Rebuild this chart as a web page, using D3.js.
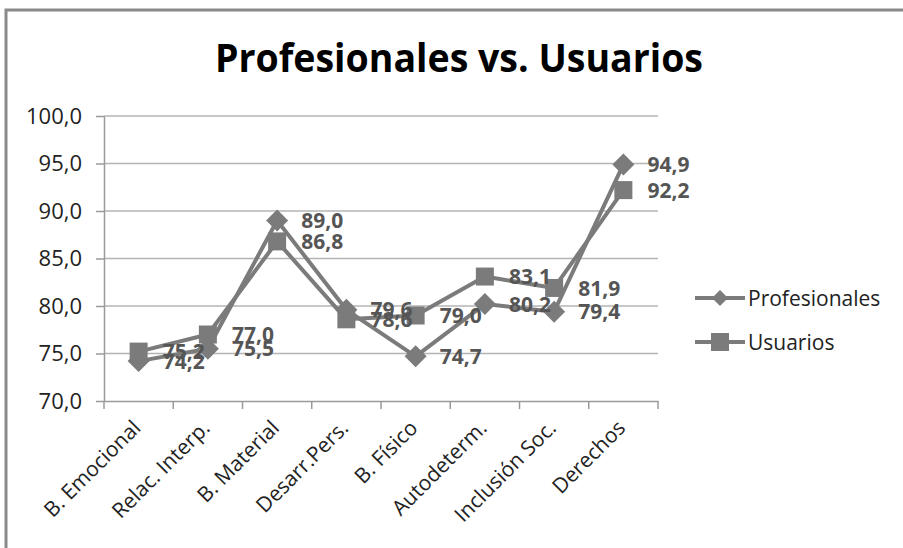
<!DOCTYPE html>
<html>
<head>
<meta charset="utf-8">
<script src="https://cdn.jsdelivr.net/npm/d3@7"></script>
<style>
  body { margin: 0; background: #fff; }
  svg { display: block; font-family: 'Open Sans', sans-serif; }
</style>
</head>
<body>
<script>
var categories = ['B. Emocional', 'Relac. Interp.', 'B. Material', 'Desarr.Pers.', 'B. Físico', 'Autodeterm.', 'Inclusión Soc.', 'Derechos'];
var profesionales = [74.2, 75.5, 89.0, 79.6, 74.7, 80.2, 79.4, 94.9];
var usuarios = [75.2, 77.0, 86.8, 78.6, 79.0, 83.1, 81.9, 92.2];
var seriesNames = ['Profesionales', 'Usuarios'];
var yTicks = [70, 75, 80, 85, 90, 95, 100];

var w = 903;
var h = 548;
var lineColour = '#7b7b7b';
var fmt = function(v){ return v.toFixed(1).replace('.', ','); };

var svg = d3.select('body')
  .append('svg')
  .attr('width', w)
  .attr('height', h);

// chart border (only top and left visible)
svg.append('path')
  .attr('d', 'M6,' + h + 'V10H' + w)
  .attr('fill', 'none')
  .attr('stroke', '#8a8a8a')
  .attr('stroke-width', 3);

svg.append('text')
  .text('Profesionales vs. Usuarios')
  .attr('x', 459)
  .attr('y', 72)
  .attr('text-anchor', 'middle')
  .attr('font-weight', 'bold')
  .attr('font-size', '40px')
  .attr('textLength', 488)
  .attr('lengthAdjust', 'spacingAndGlyphs')
  .attr('fill', '#000');

var xScale = d3.scaleBand()
  .domain(categories)
  .range([104, 658]);

var yScale = d3.scaleLinear()
  .domain([70, 100])
  .range([401, 116]);

var cx = function(i){ return xScale(categories[i]) + xScale.bandwidth() / 2; };

// gridlines
svg.append('g')
  .selectAll('line')
  .data(yTicks.slice(1))
  .enter()
  .append('line')
  .attr('x1', 104)
  .attr('x2', 658)
  .attr('y1', function(d){ return yScale(d); })
  .attr('y2', function(d){ return yScale(d); })
  .attr('stroke', '#b4b4b4')
  .attr('stroke-width', 1.5);

var yAxis = d3.axisLeft(yScale)
  .tickValues(yTicks)
  .tickFormat(fmt)
  .tickSizeInner(8)
  .tickSizeOuter(0)
  .tickPadding(14);

var gy = svg.append('g')
  .attr('transform', 'translate(104,0)')
  .call(yAxis);
gy.selectAll('line, path').attr('stroke', '#9a9a9a').attr('stroke-width', 1.5);
gy.selectAll('text')
  .attr('font-size', '22px')
  .attr('font-family', "'Open Sans', sans-serif")
  .attr('fill', '#222');

var xAxis = d3.axisBottom(xScale)
  .tickSize(0)
  .tickPadding(10);

var gx = svg.append('g')
  .attr('transform', 'translate(0,401)')
  .call(xAxis);
gx.select('path').attr('stroke', '#9a9a9a').attr('stroke-width', 1.5);
gx.selectAll('text')
  .attr('font-size', '21px')
  .attr('font-family', "'Open Sans', sans-serif")
  .attr('fill', '#222')
  .attr('text-anchor', 'end')
  .attr('dy', '0.35em')
  .attr('transform', 'translate(-9,16) rotate(-45)');

// category boundary ticks
gx.selectAll('.bound')
  .data(categories.concat(['end']))
  .enter()
  .append('line')
  .attr('class', 'bound')
  .attr('x1', function(d){ return d === 'end' ? xScale.range()[1] : xScale(d); })
  .attr('x2', function(d){ return d === 'end' ? xScale.range()[1] : xScale(d); })
  .attr('y1', 0)
  .attr('y2', 8)
  .attr('stroke', '#9a9a9a')
  .attr('stroke-width', 1.5);

var line = d3.line()
  .x(function(d, i){ return cx(i); })
  .y(function(d){ return yScale(d); });

var diamond = 'M0,-11L11,0L0,11L-11,0Z';

function drawSeries(values, isSquare){
  svg.append('path')
    .datum(values)
    .attr('d', line)
    .attr('fill', 'none')
    .attr('stroke', lineColour)
    .attr('stroke-width', 4)
    .attr('stroke-linejoin', 'round');

  var marks = svg.append('g');
  if (isSquare) {
    marks.selectAll('rect')
      .data(values)
      .enter()
      .append('rect')
      .attr('x', function(d, i){ return cx(i) - 9; })
      .attr('y', function(d){ return yScale(d) - 9; })
      .attr('width', 18)
      .attr('height', 18)
      .attr('fill', lineColour);
  } else {
    marks.selectAll('path')
      .data(values)
      .enter()
      .append('path')
      .attr('d', diamond)
      .attr('transform', function(d, i){ return 'translate(' + cx(i) + ',' + yScale(d) + ')'; })
      .attr('fill', lineColour);
  }
}

function drawLabels(values){
  svg.append('g')
    .selectAll('text')
    .data(values)
    .enter()
    .append('text')
    .text(fmt)
    .attr('x', function(d, i){ return cx(i) + 24; })
    .attr('y', function(d){ return yScale(d); })
    .attr('dy', '0.36em')
    .attr('font-size', '21px')
    .attr('font-weight', 'bold')
    .attr('fill', '#555');
}

drawSeries(profesionales, false);
drawSeries(usuarios, true);
drawLabels(profesionales);
drawLabels(usuarios);

// legend
var legend = svg.append('g')
  .selectAll('g')
  .data(seriesNames)
  .enter()
  .append('g')
  .attr('transform', function(d, i){ return 'translate(695,' + (298 + i * 44) + ')'; });

legend.append('line')
  .attr('x1', 0)
  .attr('x2', 50)
  .attr('stroke', lineColour)
  .attr('stroke-width', 4);

legend.each(function(d, i){
  var g = d3.select(this);
  if (i === 0) {
    g.append('path').attr('d', 'M0,-8L8,0L0,8L-8,0Z').attr('transform', 'translate(25,0)').attr('fill', lineColour);
  } else {
    g.append('rect').attr('x', 16).attr('y', -9).attr('width', 18).attr('height', 18).attr('fill', lineColour);
  }
});

legend.append('text')
  .text(function(d){ return d; })
  .attr('x', 53)
  .attr('dy', '0.36em')
  .attr('font-size', '21px')
  .attr('fill', '#222');
</script>
</body>
</html>
